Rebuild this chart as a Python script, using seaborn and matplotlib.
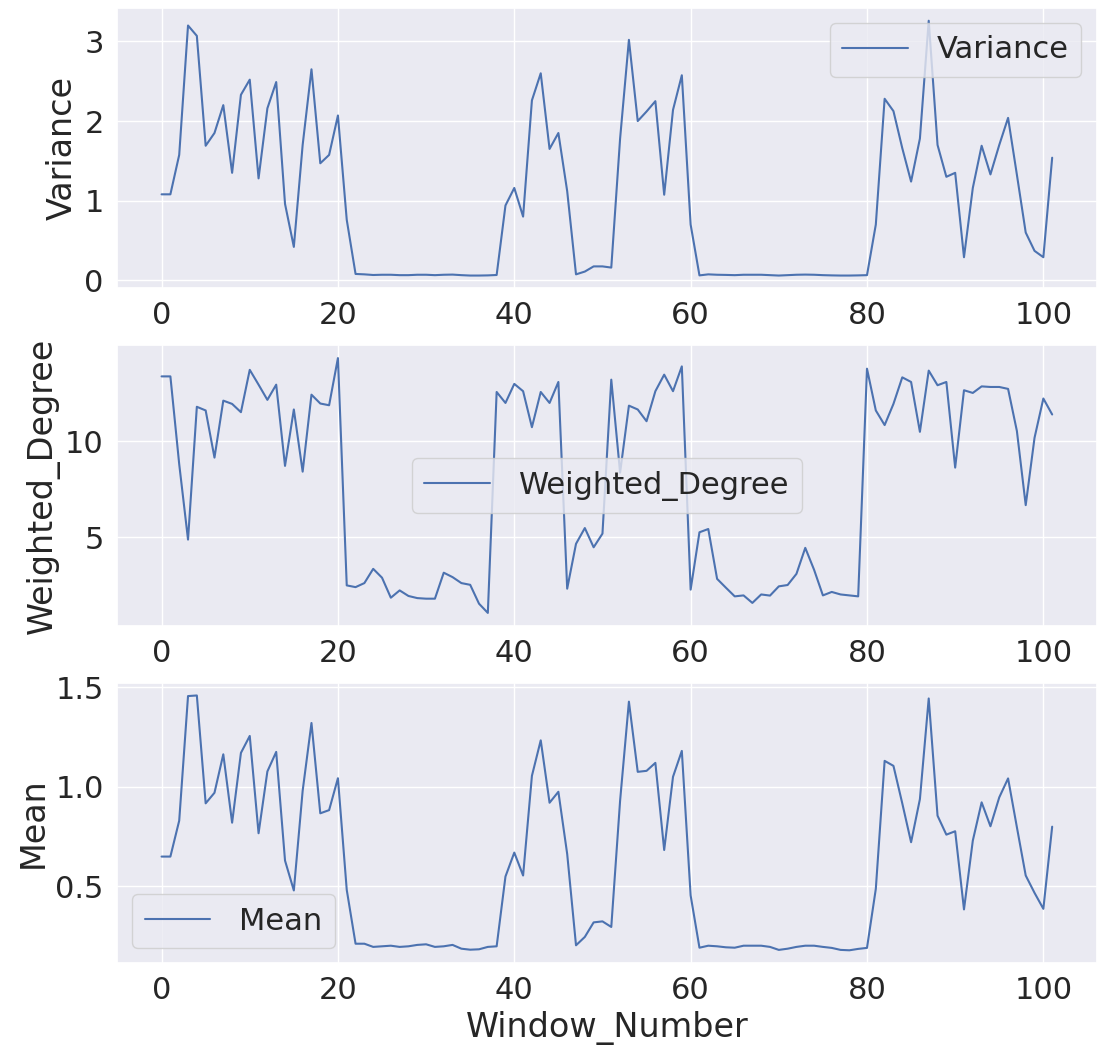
import numpy as np
import pandas as pd
import matplotlib
matplotlib.use("Agg")
import matplotlib.pyplot as plt
import seaborn as sns

window_number = list(range(102))

variance = [
    1.08, 1.08, 1.575, 3.2, 3.07, 1.69, 1.85, 2.2, 1.35, 2.33,
    2.52, 1.28, 2.16, 2.49, 0.96, 0.42, 1.7, 2.65, 1.47, 1.575,
    2.07, 0.76, 0.08, 0.075, 0.067, 0.07, 0.07, 0.065, 0.065, 0.07,
    0.07, 0.065, 0.07, 0.072, 0.065, 0.06, 0.06, 0.062, 0.067, 0.94,
    1.16, 0.8, 2.26, 2.6, 1.65, 1.85, 1.12, 0.075, 0.11, 0.175,
    0.175, 0.16, 1.78, 3.02, 2.0, 2.12, 2.25, 1.075, 2.14, 2.575,
    0.7, 0.062, 0.075, 0.07, 0.068, 0.065, 0.07, 0.07, 0.07, 0.065,
    0.06, 0.065, 0.07, 0.072, 0.07, 0.065, 0.062, 0.06, 0.06, 0.062,
    0.065, 0.7, 2.28, 2.125, 1.66, 1.24, 1.78, 3.26, 1.7, 1.3,
    1.35, 0.29, 1.16, 1.69, 1.33, 1.7, 2.04, 1.325, 0.6, 0.37,
    0.29, 1.54,
]

weighted_degree = [
    13.36, 13.36, 8.8, 4.88, 11.78, 11.59, 9.14, 12.1, 11.93, 11.5,
    13.7, 12.93, 12.14, 12.93, 8.71, 11.64, 8.41, 12.41, 11.95, 11.86,
    14.31, 2.5, 2.41, 2.62, 3.36, 2.9, 1.86, 2.24, 1.95, 1.84,
    1.81, 1.81, 3.16, 2.93, 2.62, 2.53, 1.55, 1.07, 12.55, 11.98,
    12.97, 12.59, 10.72, 12.55, 11.98, 13.07, 2.33, 4.66, 5.48, 4.48,
    5.19, 13.19, 8.36, 11.84, 11.64, 11.03, 12.59, 13.45, 12.59, 13.88,
    2.28, 5.26, 5.43, 2.84, 2.38, 1.93, 1.98, 1.59, 2.03, 1.97,
    2.45, 2.52, 3.1, 4.45, 3.31, 1.98, 2.16, 2.03, 1.98, 1.93,
    13.76, 11.59, 10.83, 11.93, 13.31, 13.07, 10.48, 13.66, 12.9, 13.07,
    8.62, 12.64, 12.5, 12.84, 12.81, 12.81, 12.71, 10.52, 6.67, 10.17,
    12.21, 11.38,
]

mean = [
    0.65, 0.65, 0.83, 1.455, 1.458, 0.917, 0.97, 1.163, 0.82, 1.17,
    1.255, 0.767, 1.077, 1.175, 0.63, 0.48, 0.98, 1.32, 0.867, 0.883,
    1.043, 0.483, 0.213, 0.213, 0.197, 0.2, 0.203, 0.197, 0.2, 0.207,
    0.21, 0.197, 0.2, 0.207, 0.188, 0.183, 0.185, 0.197, 0.2, 0.55,
    0.67, 0.555, 1.055, 1.233, 0.92, 0.975, 0.663, 0.205, 0.247, 0.32,
    0.325, 0.297, 0.93, 1.427, 1.075, 1.08, 1.12, 0.683, 1.05, 1.18,
    0.455, 0.193, 0.203, 0.2, 0.195, 0.193, 0.203, 0.203, 0.203, 0.197,
    0.182, 0.188, 0.197, 0.203, 0.203, 0.197, 0.192, 0.182, 0.18, 0.187,
    0.192, 0.488, 1.13, 1.105, 0.917, 0.722, 0.938, 1.443, 0.855, 0.76,
    0.777, 0.385, 0.73, 0.922, 0.802, 0.947, 1.042, 0.797, 0.555, 0.468,
    0.388, 0.8,
]

df = pd.DataFrame({
    "Window_Number": window_number,
    "Variance": variance,
    "Weighted_Degree": weighted_degree,
    "Mean": mean,
})

sns.set_theme(style="darkgrid", font_scale=2)
plt.rcParams["legend.handlelength"] = 2.15
plt.rcParams["legend.handletextpad"] = 0.95

fig, axes = plt.subplots(3, 1, figsize=(11, 10.51), dpi=100)
fig.subplots_adjust(left=0.1064, right=0.997, top=0.9924, bottom=0.0837, hspace=0.2036)

cols = ["Variance", "Weighted_Degree", "Mean"]
locs = ["upper right", "center", "lower left"]
for ax, col, loc in zip(axes, cols, locs):
    sns.lineplot(data=df, x="Window_Number", y=col, ax=ax, label=col)
    ax.legend(loc=loc)

axes[0].set_xlabel("")
axes[1].set_xlabel("")
axes[2].set_xlabel("Window_Number")

fig.savefig("out.png", dpi=100)
